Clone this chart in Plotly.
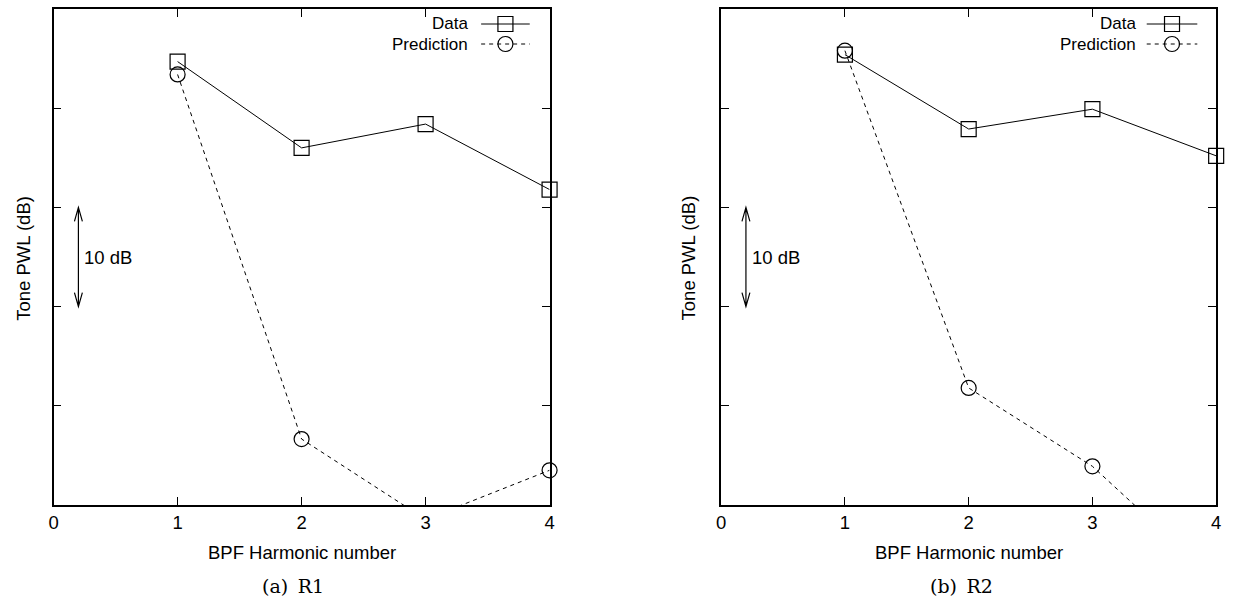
import plotly.graph_objects as go

# ---------------- data ----------------
harmonics = [1, 2, 3, 4]
r1_data = [44.7, 36.0, 38.4, 31.8]
r1_pred = [43.4, 6.65, -1.45, 3.5]
r2_data = [45.4, 37.9, 39.9, 35.2]
r2_pred = [45.8, 11.8, 3.9, -7.6]
x_tick_vals = [0, 1, 2, 3, 4]
x_tick_text = ["0", "1", "2", "3", "4"]
y_tick_vals = [10, 20, 30, 40]
y_range = [0, 50]
x_range = [0, 4]
series_names = ["Data", "Prediction"]
captions = ["(a)\u2002R1", "(b)\u2002R2"]
scale_bar = [20, 30]          # the "10 dB" scale arrow
scale_bar_x = 0.2

W, H = 1241, 604
FONT = "Liberation Sans, Arial, Helvetica, sans-serif"
SERIF = "DejaVu Serif, Liberation Serif, serif"
FS = 18.5
LEG_FS = 17
LEG_Y = [24, 44]


def px(x):
    return x / W


def py(y):
    return 1 - y / H


panels = [
    dict(data=r1_data, pred=r1_pred, xa="x", ya="y", left=49, right=549,
         ytitle_x=18, legend_text_x=468, legend_line=(480, 529), cap_x=290),
    dict(data=r2_data, pred=r2_pred, xa="x2", ya="y2", left=722, right=1221,
         ytitle_x=689, legend_text_x=1141, legend_line=(1151, 1202), cap_x=964),
]
TOP, BOTTOM = 9, 505

fig = go.Figure()
annotations = []
shapes = []

for p in panels:
    # Data series
    fig.add_trace(go.Scatter(
        x=harmonics, y=p["data"], mode="lines+markers", name=series_names[0],
        line=dict(color="black", width=1),
        marker=dict(symbol="square-open", size=15, color="black", line=dict(width=1.2, color="black")),
        cliponaxis=False, xaxis=p["xa"], yaxis=p["ya"], showlegend=False))
    # Prediction line (clipped to plot area)
    fig.add_trace(go.Scatter(
        x=harmonics, y=p["pred"], mode="lines", name=series_names[1],
        line=dict(color="black", width=1, dash="4px,4px"),
        xaxis=p["xa"], yaxis=p["ya"], showlegend=False))
    # Prediction markers, only for points inside the y-range
    inside = [(h, v) for h, v in zip(harmonics, p["pred"]) if y_range[0] <= v <= y_range[1]]
    fig.add_trace(go.Scatter(
        x=[h for h, _ in inside], y=[v for _, v in inside], mode="markers", name=series_names[1],
        marker=dict(symbol="circle-open", size=15, color="black", line=dict(width=1.2, color="black")),
        cliponaxis=False, xaxis=p["xa"], yaxis=p["ya"], showlegend=False))

    # legend samples (drawn on pixel overlay axis)
    l0, l1 = p["legend_line"]
    mid = (l0 + l1) / 2
    fig.add_trace(go.Scatter(x=[l0, l1], y=[LEG_Y[0]] * 2, mode="lines",
                             line=dict(color="black", width=1),
                             xaxis="x3", yaxis="y3", showlegend=False, hoverinfo="skip"))
    fig.add_trace(go.Scatter(x=[mid], y=[LEG_Y[0]], mode="markers",
                             marker=dict(symbol="square-open", size=15, color="black", line=dict(width=1.2)),
                             xaxis="x3", yaxis="y3", showlegend=False, hoverinfo="skip"))
    fig.add_trace(go.Scatter(x=[l0, l1], y=[LEG_Y[1]] * 2, mode="lines",
                             line=dict(color="black", width=1, dash="4px,4px"),
                             xaxis="x3", yaxis="y3", showlegend=False, hoverinfo="skip"))
    fig.add_trace(go.Scatter(x=[mid], y=[LEG_Y[1]], mode="markers",
                             marker=dict(symbol="circle-open", size=15, color="black", line=dict(width=1.2)),
                             xaxis="x3", yaxis="y3", showlegend=False, hoverinfo="skip"))

    for txt, yy in zip(series_names, LEG_Y):
        annotations.append(dict(text=txt, x=px(p["legend_text_x"]), y=py(yy), xref="paper", yref="paper",
                                xanchor="right", yanchor="middle", showarrow=False, borderpad=0,
                                font=dict(family=FONT, size=LEG_FS, color="black")))

    # axis titles
    annotations.append(dict(text="Tone PWL (dB)", x=px(p["ytitle_x"]), y=py(258), xref="paper", yref="paper",
                            textangle=-90, xanchor="center", yanchor="middle", showarrow=False,
                            font=dict(family=FONT, size=FS, color="black")))
    cx = (p["left"] + p["right"]) / 2
    annotations.append(dict(text="BPF Harmonic number", x=px(cx), y=py(552), xref="paper", yref="paper",
                            xanchor="center", yanchor="middle", showarrow=False,
                            font=dict(family=FONT, size=FS, color="black")))

    # 10 dB scale arrow (data coordinates)
    xr = p["xa"]
    yr = p["ya"]
    dx = 4 / 125.0
    dy = 1.4
    lo, hi = scale_bar
    path = (f"M {scale_bar_x},{lo} L {scale_bar_x},{hi} "
            f"M {scale_bar_x - dx},{hi - dy} L {scale_bar_x},{hi} L {scale_bar_x + dx},{hi - dy} "
            f"M {scale_bar_x - dx},{lo + dy} L {scale_bar_x},{lo} L {scale_bar_x + dx},{lo + dy}")
    shapes.append(dict(type="path", path=path, xref=xr, yref=yr, line=dict(color="black", width=1.2)))
    annotations.append(dict(text=f"{hi - lo} dB", x=scale_bar_x, y=(lo + hi) / 2, xref=xr, yref=yr,
                            xanchor="left", yanchor="middle", xshift=4, showarrow=False,
                            font=dict(family=FONT, size=FS, color="black")))

for p, cap in zip(panels, captions):
    annotations.append(dict(text=cap, x=px(p["cap_x"]), y=py(586), xref="paper", yref="paper",
                            xanchor="center", yanchor="middle", showarrow=False,
                            font=dict(family=SERIF, size=19, color="black")))

axis_common = dict(showline=True, linecolor="black", linewidth=1.5, mirror="allticks",
                   ticks="inside", ticklen=8, tickwidth=1, tickcolor="black",
                   showgrid=False, zeroline=False, fixedrange=True)

xa_common = dict(axis_common, range=x_range, tickvals=x_tick_vals, ticktext=x_tick_text,
                 tickfont=dict(family=FONT, size=FS, color="black"))
ya_common = dict(axis_common, range=y_range, tickvals=y_tick_vals, showticklabels=False)

ydom = [py(BOTTOM), py(TOP)]
fig.update_layout(
    width=W, height=H,
    margin=dict(l=0, r=0, t=0, b=0),
    paper_bgcolor="white", plot_bgcolor="rgba(0,0,0,0)",
    showlegend=False,
    xaxis=dict(xa_common, domain=[px(panels[0]["left"]), px(panels[0]["right"])], anchor="y"),
    yaxis=dict(ya_common, domain=ydom, anchor="x"),
    xaxis2=dict(xa_common, domain=[px(panels[1]["left"]), px(panels[1]["right"])], anchor="y2"),
    yaxis2=dict(ya_common, domain=ydom, anchor="x2"),
    xaxis3=dict(domain=[0, 1], range=[0, W], visible=False, fixedrange=True, anchor="y3"),
    yaxis3=dict(domain=[0, 1], range=[H, 0], visible=False, fixedrange=True, anchor="x3"),
    annotations=annotations,
    shapes=shapes,
)

fig.write_html("out.html", config={"displayModeBar": False},
               post_script="document.body.style.margin='0';")
